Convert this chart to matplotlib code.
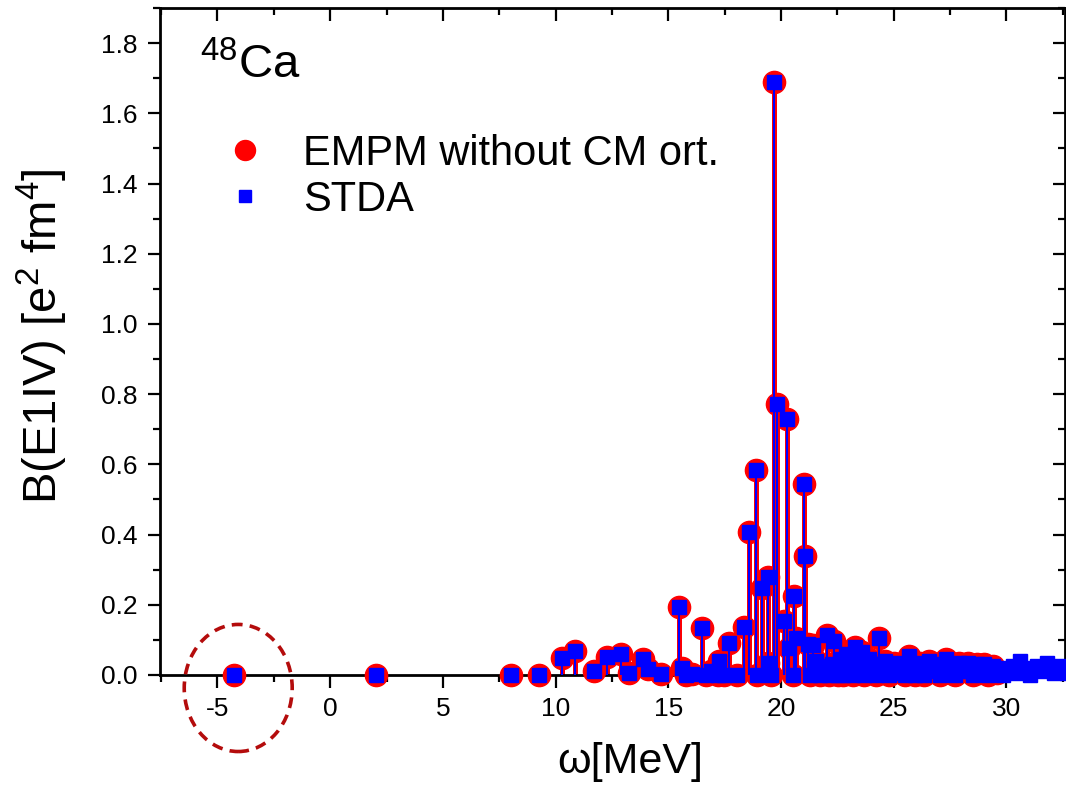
import matplotlib
matplotlib.use("Agg")
import matplotlib.pyplot as plt
from matplotlib.patches import Ellipse
from matplotlib.ticker import MultipleLocator

plt.rcParams['font.family'] = ['Liberation Sans', 'DejaVu Sans']
plt.rcParams['mathtext.fontset'] = 'custom'
plt.rcParams['mathtext.rm'] = 'Liberation Sans'
plt.rcParams['mathtext.it'] = 'Liberation Sans:italic'
plt.rcParams['axes.unicode_minus'] = False

# EMPM without CM orthogonalization: excitation energy [MeV] and B(E1) [e^2 fm^4]
omega_empm = [-4.25, 2.05, 8.03, 9.28, 10.28, 10.87, 11.70, 12.27, 12.90, 13.27,
              13.90, 14.10, 14.68, 15.46, 15.60, 15.80, 16.07, 16.50, 16.68, 16.90,
              17.19, 17.23, 17.45, 17.68, 18.03, 18.38, 18.60, 18.90, 18.92, 19.14,
              19.41, 19.43, 19.55, 19.68, 19.84, 20.15, 20.28, 20.37, 20.52, 20.56,
              20.67, 21.00, 21.08, 21.19,
              21.30, 21.40, 21.48, 21.56, 21.65, 21.75, 21.85, 21.95, 22.05, 22.15,
              22.25, 22.35, 22.45, 22.52, 22.60, 22.68, 22.75, 22.82, 22.90, 23.00,
              23.10, 23.20, 23.30, 23.38, 23.45, 23.52, 23.60, 23.68, 23.75, 23.82,
              23.90, 24.00, 24.10, 24.20, 24.30, 24.37, 24.45, 24.52, 24.60, 24.70,
              24.80, 24.90, 25.00, 25.10, 25.20, 25.30, 25.40, 25.50, 25.60, 25.70,
              25.78, 25.85, 25.95, 26.05, 26.15, 26.25, 26.35, 26.45, 26.55, 26.65,
              26.75, 26.85, 26.95, 27.05, 27.15, 27.30, 27.40, 27.50, 27.60, 27.70,
              27.80, 27.90, 28.00, 28.10, 28.20, 28.30, 28.40, 28.50, 28.60, 28.70,
              28.80, 28.90, 29.00, 29.10, 29.20, 29.30, 29.40, 29.50, 29.58]
b_empm = [0.000, 0.000, 0.000, 0.000, 0.048, 0.068, 0.010, 0.050, 0.060, 0.005,
          0.046, 0.018, 0.003, 0.194, 0.020, 0.000, 0.004, 0.135, 0.000, 0.010,
          0.000, 0.040, 0.000, 0.090, 0.000, 0.137, 0.406, 0.584, 0.000, 0.249,
          0.278, 0.034, 0.000, 1.690, 0.773, 0.154, 0.730, 0.078, 0.000, 0.225,
          0.106, 0.545, 0.340, 0.088,
          0.000, 0.085, 0.020, 0.040, 0.005, 0.000, 0.025, 0.010, 0.113, 0.000,
          0.030, 0.097, 0.010, 0.000, 0.045, 0.020, 0.000, 0.035, 0.060, 0.020,
          0.050, 0.000, 0.080, 0.030, 0.010, 0.045, 0.065, 0.000, 0.020, 0.040,
          0.045, 0.015, 0.030, 0.000, 0.020, 0.105, 0.005, 0.030, 0.040, 0.010,
          0.000, 0.025, 0.035, 0.010, 0.020, 0.030, 0.005, 0.000, 0.025, 0.055,
          0.020, 0.015, 0.000, 0.030, 0.035, 0.010, 0.000, 0.025, 0.040, 0.015,
          0.010, 0.020, 0.030, 0.000, 0.015, 0.045, 0.020, 0.005, 0.030, 0.000,
          0.020, 0.035, 0.010, 0.015, 0.025, 0.035, 0.010, 0.000, 0.020, 0.030,
          0.005, 0.015, 0.030, 0.010, 0.000, 0.020, 0.025, 0.010, 0.005]

# STDA coincides with EMPM up to ~29.5 MeV and continues beyond
omega_stda_tail = [29.70, 29.85, 30.00, 30.15, 30.30, 30.45, 30.60, 30.75, 30.90, 31.05,
                   31.20, 31.35, 31.50, 31.65, 31.80, 31.95, 32.10, 32.25, 32.40, 32.55,
                   32.70]
b_stda_tail = [0.015, 0.000, 0.020, 0.010, 0.025, 0.005, 0.040, 0.020, 0.010, 0.000,
               0.015, 0.025, 0.010, 0.020, 0.035, 0.015, 0.005, 0.020, 0.025, 0.010,
               0.005]

omega_stda = omega_empm + omega_stda_tail
b_stda = b_empm + b_stda_tail

fig = plt.figure(figsize=(10.66, 7.89), dpi=100)
ax = fig.add_axes([160 / 1066, 1 - 675 / 789, 905 / 1066, 667 / 789])

red = '#ff0000'
blue = '#0000ff'

ax.vlines(omega_empm, 0, b_empm, color=red, lw=3.6, zorder=2, clip_on=False)
ax.plot(omega_empm, b_empm, 'o', color=red, ms=16, mec=red, zorder=3,
        clip_on=False, label='EMPM without CM ort.')
ax.vlines(omega_stda, 0, b_stda, color=blue, lw=1.5, zorder=4)
ax.plot(omega_stda, b_stda, 's', color=blue, ms=10, mec=blue, zorder=5,
        clip_on=False, label='STDA')

ax.set_xlim(-7.55, 32.6)
ax.set_ylim(0, 1.9)

ax.xaxis.set_major_locator(MultipleLocator(5))
ax.xaxis.set_minor_locator(MultipleLocator(2.5))
ax.yaxis.set_major_locator(MultipleLocator(0.2))
ax.yaxis.set_minor_locator(MultipleLocator(0.1))
ax.yaxis.set_major_formatter(plt.FormatStrFormatter('%.1f'))

for sp in ax.spines.values():
    sp.set_linewidth(2.0)
ax.tick_params(which='major', direction='out', length=9, width=1.6, labelsize=19, pad=7)
ax.tick_params(which='minor', direction='out', length=5, width=1.6)

# top and right: inward ticks, no labels
top = ax.secondary_xaxis('top')
top.xaxis.set_major_locator(MultipleLocator(5))
top.xaxis.set_minor_locator(MultipleLocator(2.5))
top.tick_params(which='major', direction='in', length=9, width=1.6, labeltop=False)
top.tick_params(which='minor', direction='in', length=5, width=1.6)
right = ax.secondary_yaxis('right')
right.yaxis.set_major_locator(MultipleLocator(0.2))
right.yaxis.set_minor_locator(MultipleLocator(0.1))
right.tick_params(which='major', direction='in', length=9, width=1.6, labelright=False)
right.tick_params(which='minor', direction='in', length=5, width=1.6)

ax.set_xlabel('ω[MeV]', fontsize=31)
ax.set_ylabel('B(E1IV) [e$^2$ fm$^4$]', fontsize=34)
ax.xaxis.set_label_coords(0.52, -0.1)
ax.yaxis.set_label_coords(-0.1, 0.508)

ax.text(0.044, 0.895, '$^{48}$Ca', transform=ax.transAxes, fontsize=34, va='baseline')

ax.legend(loc='center left', bbox_to_anchor=(0.0475, 0.747), frameon=False,
          fontsize=30, numpoints=1, handlelength=2.0, handletextpad=0.4,
          labelspacing=0.15, borderpad=0, borderaxespad=0, markerscale=0.9)

# dashed ellipse around the spurious negative-energy state
ax.add_patch(Ellipse((-4.08, -0.037), 4.79, 0.362, fill=False, edgecolor='#b40c0c',
                     lw=2.6, ls=(0, (3, 2)), clip_on=False, zorder=6))

fig.savefig('out.png', dpi=100)
